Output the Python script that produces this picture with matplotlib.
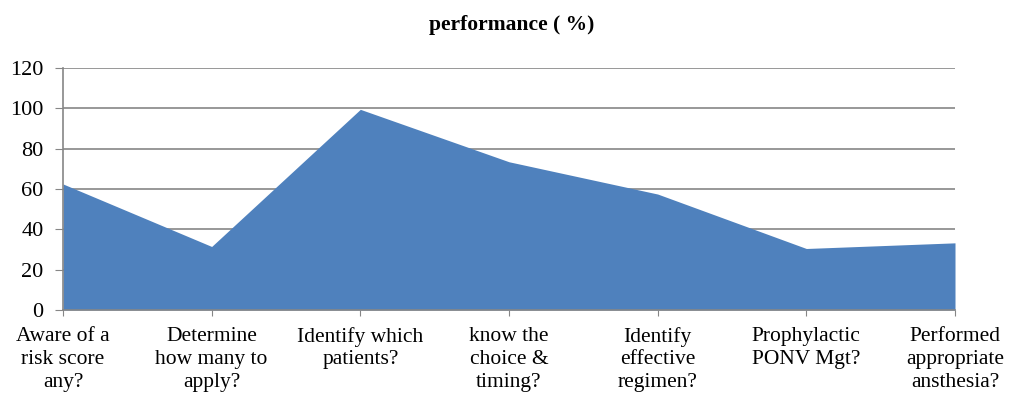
import matplotlib.pyplot as plt
import numpy as np

plt.rcParams['font.family'] = ['Liberation Serif', 'DejaVu Serif']

# data
categories = [
    "Aware of a\nrisk score\nany?",
    "Determine\nhow many to\napply?",
    "Identify which\npatients?",
    "know the\nchoice &\ntiming?",
    "Identify\neffective\nregimen?",
    "Prophylactic\nPONV Mgt?",
    "Performed\nappropriate\nansthesia?",
]
performance = [62.5, 31.5, 99.5, 73.5, 57.5, 30.5, 33.3]
y_ticks = [0, 20, 40, 60, 80, 100, 120]

fig = plt.figure(figsize=(10.11, 4.03), dpi=100)
ax = fig.add_axes([63 / 1011, 93 / 403, (955 - 63) / 1011, (310 - 68) / 403])

x = np.arange(len(categories))
ax.fill_between(x, performance, 0, color='#4F81BD', linewidth=0, zorder=2)

ax.set_xlim(x[0], x[-1])
ax.set_ylim(0, 120)
ax.set_yticks(y_ticks)
ax.set_xticks(x)
ax.set_xticklabels(categories, fontsize=15.5, linespacing=1.28)
ax.tick_params(axis='y', labelsize=16, length=6, color='#868686', pad=8)
ax.tick_params(axis='x', length=4, color='#868686', pad=8)

ax.grid(axis='y', color='#868686', linewidth=1.2, zorder=1)
ax.set_axisbelow(True)
for s in ['top', 'right']:
    ax.spines[s].set_visible(False)
for s in ['left', 'bottom']:
    ax.spines[s].set_color('#868686')
    ax.spines[s].set_linewidth(1.2)
    ax.spines[s].set_zorder(3)

fig.text(512 / 1011, 1 - 25 / 403, "performance ( %)", ha='center', va='center',
         fontsize=15.5, fontweight='bold')

fig.savefig("out.png", dpi=100)
